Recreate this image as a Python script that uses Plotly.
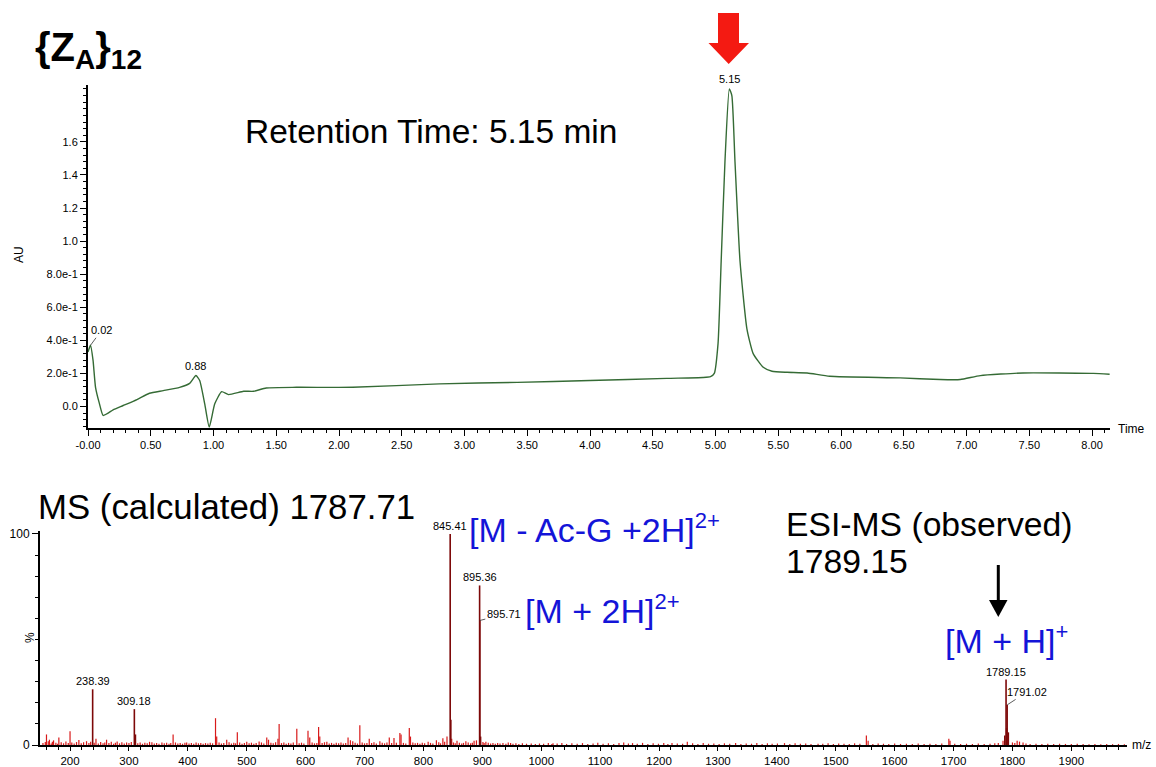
import plotly.graph_objects as go

W, H = 1156, 767

# ---------------- data ----------------
# HPLC chromatogram (time in min, absorbance in AU)
time_min = [0.0, 0.02, 0.04, 0.06, 0.09, 0.12, 0.16, 0.2, 0.28, 0.39, 0.49, 0.6, 0.73, 0.81, 0.86,
            0.89, 0.93, 0.966, 1.01, 1.065, 1.12, 1.24, 1.32, 1.42, 1.66, 2.11, 2.8, 3.42, 4.0,
            4.61, 4.9, 4.96, 4.99, 5.02, 5.045, 5.075, 5.11, 5.13, 5.155, 5.195, 5.25, 5.3, 5.38,
            5.45, 5.57, 5.73, 5.91, 6.47, 6.79, 6.95, 7.11, 7.45, 8.01, 8.14]
absorb_au = [0.33, 0.37, 0.28, 0.116, 0.02, -0.054, -0.04, -0.02, 0.006, 0.042, 0.08, 0.096, 0.116,
             0.14, 0.187, 0.157, 0.016, -0.125, 0.016, 0.09, 0.072, 0.092, 0.092, 0.112, 0.116,
             0.116, 0.137, 0.146, 0.157, 0.17, 0.175, 0.18, 0.2, 0.38, 0.88, 1.48, 1.92, 1.88,
             1.48, 0.88, 0.47, 0.32, 0.237, 0.213, 0.207, 0.203, 0.183, 0.173, 0.163, 0.163,
             0.187, 0.203, 0.2, 0.195]

chrom_labels = [("5.15", 5.11, 1.92), ("0.02", 0.02, 0.37), ("0.88", 0.86, 0.187)]

x_tick_vals = [0.0, 0.5, 1.0, 1.5, 2.0, 2.5, 3.0, 3.5, 4.0, 4.5, 5.0, 5.5, 6.0, 6.5, 7.0, 7.5, 8.0]
x_tick_text = ["-0.00", "0.50", "1.00", "1.50", "2.00", "2.50", "3.00", "3.50", "4.00", "4.50",
               "5.00", "5.50", "6.00", "6.50", "7.00", "7.50", "8.00"]
y_tick_vals = [0.0, 0.2, 0.4, 0.6, 0.8, 1.0, 1.2, 1.4, 1.6]
y_tick_text = ["0.0", "2.0e-1", "4.0e-1", "6.0e-1", "8.0e-1", "1.0", "1.2", "1.4", "1.6"]

# ESI-MS spectrum: labelled / prominent peaks (m/z, relative intensity %)
ms_mz = [845.41, 846.5, 895.36, 895.71, 897.0, 238.39, 309.18, 311.0, 1789.15, 1790.2, 1791.02,
         1793.0, 1787.0]
ms_int = [100.0, 12.0, 75.6, 59.0, 4.0, 26.4, 17.0, 5.0, 31.0, 8.0, 19.0, 6.0, 4.5]

# smaller peaks and baseline noise (m/z, %)
minor_peaks = [(160, 5.0), (165, 2.5), (172, 2.2), (181, 3.5), (200, 6.5), (215, 2.4), (228, 1.8),
               (244, 3.0), (262, 2.5), (280, 1.6), (335, 1.5), (375, 5.0), (398, 1.2), (447, 12.7),
               (449, 4.0), (466, 2.5), (484, 6.0), (500, 1.5), (521, 1.6), (534, 3.6), (537, 2.5),
               (553, 3.0), (555, 10.0), (585, 7.7), (604, 6.7), (607, 3.5), (622, 8.5), (624, 4.0),
               (636, 1.5), (672, 3.6), (676, 2.2), (680, 1.8), (692, 9.4), (708, 3.0), (726, 1.8),
               (742, 3.6), (750, 3.3), (760, 5.7), (762, 5.0), (776, 8.0), (778, 4.0), (808, 1.5),
               (822, 2.2), (833, 3.2), (840, 4.0), (848, 3.0), (857, 2.0), (872, 1.8), (886, 2.0),
               (890, 2.2), (906, 1.5), (944, 1.2), (1020, 0.8), (1140, 1.2), (1155, 0.9),
               (1222, 1.0), (1248, 1.5), (1413, 0.9), (1470, 0.6), (1552, 4.5), (1555, 2.0),
               (1692, 3.0), (1694, 2.0), (1784, 2.0), (1808, 2.0), (1812, 1.6), (1818, 1.2)]

noise_peaks = [(154, 0.9), (158, 1.4), (163, 1.8), (168, 0.7), (170, 1.5), (176, 1.1), (179, 0.6),
               (185, 1.3), (189, 0.8), (193, 1.6), (197, 0.9), (203, 1.2), (207, 0.7), (211, 1.4),
               (219, 0.8), (223, 1.3), (232, 0.9), (235, 1.5), (241, 1.1), (248, 0.7), (252, 1.4),
               (256, 0.8), (259, 1.2), (266, 0.9), (270, 1.5), (274, 0.6), (277, 1.1), (284, 0.8),
               (288, 1.3), (292, 0.7), (296, 1.2), (300, 0.9), (304, 1.4), (315, 0.8), (319, 1.2),
               (323, 0.6), (327, 1.1), (331, 0.8), (339, 1.3), (343, 0.7), (347, 1.0), (351, 0.6),
               (356, 1.2), (360, 0.8), (364, 1.1), (368, 0.6), (371, 0.9), (379, 1.2), (383, 0.7),
               (387, 1.0), (391, 0.6), (395, 1.1), (402, 0.7), (406, 1.0), (410, 0.6), (414, 1.2),
               (418, 0.8), (422, 1.0), (426, 0.6), (430, 0.9), (434, 0.7), (438, 1.1), (442, 0.8),
               (453, 1.2), (457, 0.7), (461, 1.0), (470, 1.3), (474, 0.7), (478, 1.1), (481, 0.8),
               (488, 1.2), (492, 0.6), (496, 1.0), (504, 0.8), (508, 1.1), (512, 0.6), (516, 0.9),
               (525, 1.2), (529, 0.7), (541, 1.1), (545, 0.8), (549, 1.3), (559, 0.9), (563, 1.2),
               (567, 0.6), (571, 1.0), (575, 0.7), (579, 1.2), (589, 0.8), (593, 1.1), (597, 0.7),
               (611, 1.2), (615, 0.8), (619, 1.0), (628, 0.9), (632, 1.3), (640, 0.7), (644, 1.0),
               (648, 0.6), (652, 1.1), (656, 0.8), (660, 1.2), (664, 0.7), (668, 1.0), (684, 1.1),
               (688, 0.7), (696, 1.2), (700, 0.8), (704, 1.0), (712, 0.9), (716, 1.3), (720, 0.7),
               (730, 1.1), (734, 0.8), (738, 1.2), (746, 0.9), (754, 1.1), (766, 1.0), (770, 0.7),
               (782, 1.2), (786, 0.8), (790, 1.0), (794, 0.6), (798, 1.1), (802, 0.8), (812, 1.0),
               (816, 0.7), (826, 1.3), (829, 0.8), (836, 1.5), (851, 1.2), (854, 0.8), (861, 1.1),
               (865, 0.7), (868, 1.0), (876, 1.2), (880, 0.8), (883, 1.1), (901, 1.4), (903, 0.9),
               (910, 1.1), (914, 0.7), (918, 1.0), (922, 0.6), (926, 0.9), (930, 0.7), (935, 1.0),
               (940, 0.6), (948, 0.9), (952, 0.6), (957, 0.8), (962, 0.5), (968, 0.8), (975, 0.6),
               (983, 0.7), (990, 0.5), (997, 0.7), (1004, 0.6), (1012, 0.9), (1018, 0.5),
               (1027, 0.7), (1035, 1.0), (1043, 0.5), (1052, 0.8), (1061, 0.6), (1070, 0.9),
               (1079, 0.5), (1088, 0.7), (1096, 1.1), (1105, 0.6), (1114, 0.8), (1123, 0.5),
               (1132, 0.9), (1148, 0.7), (1163, 0.6), (1172, 1.0), (1181, 0.5), (1190, 0.8),
               (1199, 0.6), (1208, 0.9), (1215, 0.5), (1231, 0.7), (1240, 0.6), (1257, 0.8),
               (1266, 0.5), (1275, 0.9), (1284, 0.6), (1293, 0.7), (1302, 0.5), (1311, 0.8),
               (1320, 0.6), (1330, 0.9), (1339, 0.5), (1348, 0.7), (1357, 0.6), (1366, 1.0),
               (1375, 0.5), (1384, 0.8), (1392, 0.6), (1401, 0.7), (1422, 0.5), (1431, 0.8),
               (1440, 0.6), (1449, 0.7), (1458, 0.5), (1478, 0.6), (1487, 0.8), (1496, 0.5),
               (1505, 0.7), (1514, 0.6), (1523, 0.5), (1532, 0.8), (1541, 0.6), (1563, 0.5),
               (1572, 0.7), (1581, 0.6), (1590, 0.5), (1600, 0.7), (1610, 0.5), (1620, 0.6),
               (1630, 0.5), (1640, 0.7), (1650, 0.5), (1660, 0.6), (1670, 0.5), (1680, 0.7),
               (1702, 0.6), (1712, 0.5), (1722, 0.6), (1732, 0.5), (1742, 0.7), (1752, 0.5),
               (1762, 0.6), (1770, 0.8), (1776, 1.0), (1800, 1.2), (1804, 0.9), (1823, 0.7),
               (1830, 0.5), (1840, 0.6), (1850, 0.5), (1860, 0.6), (1870, 0.5), (1880, 0.6),
               (1890, 0.5), (1900, 0.5), (1910, 0.6), (1920, 0.5), (1930, 0.4), (1940, 0.5),
               (1950, 0.4), (1960, 0.5), (1970, 0.4), (1980, 0.5), (1990, 0.4)]

ms_labels = [("845.41", 845.41, 100.0), ("895.36", 895.36, 75.6), ("238.39", 238.39, 26.4),
             ("309.18", 309.18, 17.0), ("1789.15", 1789.15, 31.0)]
ms_leader_labels = [("895.71", 895.71, 59.0, 24, -6), ("1791.02", 1791.02, 19.0, 20, -13)]

mz_tick_vals = [200, 300, 400, 500, 600, 700, 800, 900, 1000, 1100, 1200, 1300, 1400, 1500,
                1600, 1700, 1800, 1900]
pct_tick_vals = [0, 100]

# ---------------- helpers ----------------
def px(x):
    return x / W


def py(y):
    return 1 - y / H


def sticks(pairs):
    xs, ys = [], []
    for m, h in pairs:
        xs += [m, m, None]
        ys += [0, h, None]
    return xs, ys


FONT = "Liberation Sans, Arial, sans-serif"
BLUE = "#1414d8"

fig = go.Figure()

# chromatogram
fig.add_trace(go.Scatter(x=time_min, y=absorb_au, mode="lines", xaxis="x", yaxis="y",
                         line=dict(color="#356b35", width=1.4, shape="spline", smoothing=0.5),
                         hoverinfo="skip", showlegend=False))

# MS noise and minor peaks
nx, ny = sticks(noise_peaks + minor_peaks)
fig.add_trace(go.Scatter(x=nx, y=ny, mode="lines", xaxis="x2", yaxis="y2",
                         line=dict(color="#d81a1a", width=1.2), hoverinfo="skip", showlegend=False))
# main peaks
mx, my = sticks(list(zip(ms_mz, ms_int)))
fig.add_trace(go.Scatter(x=mx, y=my, mode="lines", xaxis="x2", yaxis="y2",
                         line=dict(color="#7d0808", width=1.6), hoverinfo="skip", showlegend=False))

axis_common = dict(showline=True, linecolor="black", linewidth=2, showgrid=False, zeroline=False,
                   ticks="outside", tickcolor="black", tickwidth=1, fixedrange=True,
                   automargin=False)

annotations = []
for t, x, y in chrom_labels:
    if t == "0.02":
        annotations.append(dict(x=x, y=y, xref="x", yref="y", text=t, showarrow=True, arrowhead=0,
                                arrowwidth=0.8, arrowcolor="#333", ax=11, ay=-15,
                                font=dict(family=FONT, size=11, color="black")))
    else:
        annotations.append(dict(x=x, y=y, xref="x", yref="y", text=t, showarrow=False,
                                yanchor="bottom", yshift=2,
                                font=dict(family=FONT, size=11, color="black")))

for t, x, y in ms_labels:
    annotations.append(dict(x=x, y=y, xref="x2", yref="y2", text=t, showarrow=False,
                            yanchor="bottom", yshift=0,
                            font=dict(family=FONT, size=11, color="black")))
for t, x, y, ax, ay in ms_leader_labels:
    annotations.append(dict(x=x, y=y, xref="x2", yref="y2", text=t, showarrow=True, arrowhead=0,
                            arrowwidth=0.8, arrowcolor="#333", ax=ax, ay=ay,
                            font=dict(family=FONT, size=11, color="black")))


def txt(text, x, y, size, color="black", xanchor="left", angle=0, family=FONT):
    annotations.append(dict(x=px(x), y=py(y), xref="paper", yref="paper", text=text,
                            showarrow=False, xanchor=xanchor, yanchor="middle", textangle=angle,
                            font=dict(family=family, size=size, color=color)))


SUP = "<sup><span style='font-size:22px'>{}</span></sup>"

txt("<b>{Z<sub>A</sub>}<sub>12</sub></b>", 33, 50, 40)
txt("Retention Time: 5.15 min", 243, 132, 33.5)
txt("MS (calculated) 1787.71", 36, 506, 34.8)
txt("[M - Ac-G +2H]" + SUP.format("2+"), 467, 528, 34, BLUE)
txt("[M + 2H]" + SUP.format("2+"), 523, 609, 34, BLUE)
txt("ESI-MS (observed)", 784, 524, 33.7)
txt("1789.15", 784, 561, 33.7)
txt("[M + H]" + SUP.format("+"), 943, 639, 34, BLUE)
txt("Time", 1116, 429, 12)
txt("m/z", 1130, 745, 12)
txt("AU", 19, 255, 12, angle=-90, xanchor="center")
txt("%", 30, 638, 12, angle=-90, xanchor="center")


def path(points):
    return "M " + " L ".join(f"{px(a):.5f},{py(b):.5f}" for a, b in points) + " Z"


shapes = [
    # red arrow above main peak
    dict(type="path", xref="paper", yref="paper", line=dict(width=0), fillcolor="#f41a12",
         path=path([(718, 13), (739, 13), (739, 43), (749, 43), (728.7, 64), (708.5, 43),
                    (718, 43)])),
    # black arrow in MS panel
    dict(type="line", xref="paper", yref="paper", x0=px(998.3), x1=px(998.3), y0=py(565),
         y1=py(603), line=dict(color="black", width=3)),
    dict(type="path", xref="paper", yref="paper", line=dict(width=0), fillcolor="black",
         path=path([(989, 600), (1007.5, 600), (998.3, 617)])),
]

fig.update_layout(
    width=W, height=H, margin=dict(l=0, r=0, t=0, b=0, autoexpand=False),
    paper_bgcolor="white", plot_bgcolor="white", showlegend=False,
    font=dict(family=FONT, color="black"),
    xaxis=dict(**axis_common, domain=[px(88), px(1110)], range=[0, 8.143], anchor="y",
               tickvals=x_tick_vals, ticktext=x_tick_text, ticklen=6,
               tickfont=dict(family=FONT, size=11),
               minor=dict(dtick=0.1, tick0=0, ticklen=3, ticks="outside", tickcolor="black")),
    yaxis=dict(**axis_common, domain=[py(428), py(85)], range=[-0.13, 1.944], anchor="x",
               tickvals=y_tick_vals, ticktext=y_tick_text, ticklen=6,
               tickfont=dict(family=FONT, size=11),
               minor=dict(dtick=0.04, tick0=0, ticklen=3, ticks="outside", tickcolor="black")),
    xaxis2=dict(**axis_common, domain=[px(40), px(1127)], range=[149, 1994.5], anchor="y2",
                tickvals=mz_tick_vals, ticklen=4, tickfont=dict(family=FONT, size=11.5),
                minor=dict(dtick=20, tick0=0, ticklen=3, ticks="outside", tickcolor="black")),
    yaxis2=dict(**axis_common, domain=[py(745), py(531)], range=[0, 101.4], anchor="x2",
                tickvals=pct_tick_vals, ticklen=6, tickfont=dict(family=FONT, size=12),
                minor=dict(dtick=10, tick0=0, ticklen=3, ticks="outside", tickcolor="black")),
    annotations=annotations,
    shapes=shapes,
)

fig.write_html("out.html")
